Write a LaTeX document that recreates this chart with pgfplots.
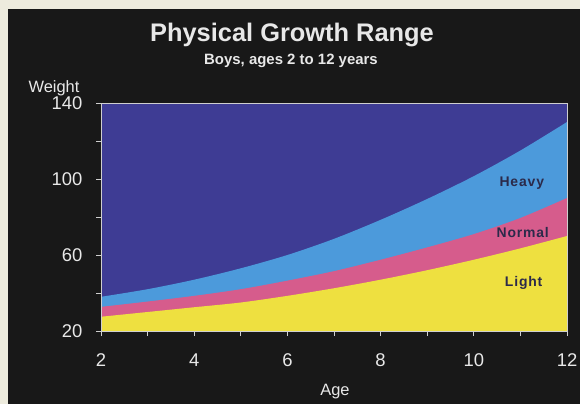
\documentclass[border=0pt]{standalone}
\usepackage{pgfplots}
\pgfplotsset{compat=1.18}
\usepackage{fontspec}
\setmainfont{Liberation Sans}
\newfontfamily\lblfont[LetterSpace=6]{Liberation Sans}

\definecolor{cream}{HTML}{EDEBDD}
\definecolor{bgdark}{HTML}{181818}
\definecolor{darkblue}{HTML}{3E3C94}
\definecolor{lightblue}{HTML}{4C9ADB}
\definecolor{pinkband}{HTML}{D65C8C}
\definecolor{yellowband}{HTML}{EEE040}
\definecolor{bandtext}{HTML}{2B2A4A}
\definecolor{txtwhite}{HTML}{E8E8E8}
\definecolor{tickgray}{HTML}{CFCFCF}

\begin{document}
\begin{tikzpicture}
\useasboundingbox (0,0) rectangle (580bp,404bp);
\fill[cream] (0,0) rectangle (580bp,404bp);
\fill[bgdark] (8bp,0) rectangle (580bp,395bp);

\begin{axis}[
  at={(101bp,73bp)}, anchor=south west,
  scale only axis, width=466bp, height=228bp,
  xmin=2, xmax=12, ymin=20, ymax=140,
  xtick={2,4,...,12}, minor xtick={3,5,...,11},
  ytick={20,60,100,140}, minor ytick={40,80,120},
  xtick pos=bottom, ytick pos=left,
  tick align=outside, major tick length=5bp, minor tick length=5bp,
  tick style={color=tickgray, line width=0.7pt},
  axis line style={draw=tickgray, line width=0.6pt},
  axis background/.style={fill=darkblue},
  tick label style={font=\fontsize{18.5}{18.5}\selectfont, text=txtwhite},
  /pgf/number format/assume math mode=true,
  xticklabel style={yshift=-14bp},
  yticklabel style={xshift=-10bp},
  axis on top,
]
% top of the Heavy band
\addplot[draw=none, fill=lightblue, smooth] table {
x y
2 38.0
3 42.0
4 47.0
5 53.0
6 60.0
7 68.5
8 78.5
9 89.5
10 101.5
11 115.0
12 130.0
} \closedcycle;
% top of the Normal band
\addplot[draw=none, fill=pinkband, smooth] table {
x y
2 32.7
3 35.5
4 38.5
5 42.0
6 46.5
7 51.5
8 57.5
9 64.0
10 71.0
11 79.5
12 90.0
} \closedcycle;
% top of the Light band
\addplot[draw=none, fill=yellowband, smooth] table {
x y
2 27.5
3 30.0
4 32.5
5 35.0
6 38.5
7 42.5
8 47.0
9 52.0
10 57.5
11 63.5
12 70.0
} \closedcycle;

\node[font=\lblfont\bfseries\fontsize{14}{14}\selectfont, text=bandtext] at (axis cs:11.03,97.6) {Heavy};
\node[font=\lblfont\bfseries\fontsize{14}{14}\selectfont, text=bandtext] at (axis cs:11.05,71.8) {Normal};
\node[font=\lblfont\bfseries\fontsize{14}{14}\selectfont, text=bandtext] at (axis cs:11.07,45.5) {Light};
\end{axis}

\node[anchor=base, font=\bfseries\fontsize{25.5}{25.5}\selectfont, text=txtwhite] at (292bp,362bp) {Physical Growth Range};
\node[anchor=base, font=\bfseries\fontsize{15}{15}\selectfont, text=txtwhite] at (291bp,339bp) {Boys, ages 2 to 12 years};
\node[anchor=base, font=\fontsize{16.5}{16.5}\selectfont, text=txtwhite] at (54bp,311bp) {Weight};
\node[anchor=base, font=\fontsize{16.5}{16.5}\selectfont, text=txtwhite] at (335bp,9bp) {Age};
\end{tikzpicture}
\end{document}
